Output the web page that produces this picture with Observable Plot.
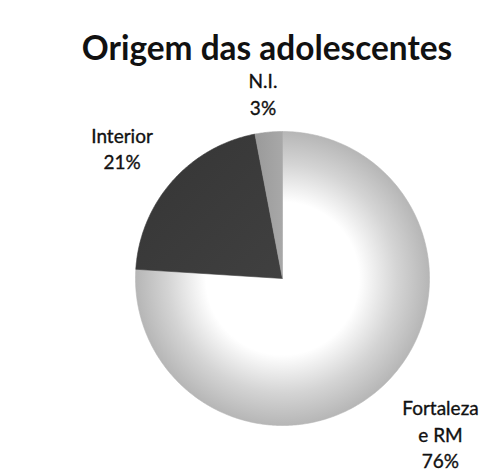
<!DOCTYPE html>
<html>
<head>
<meta charset="utf-8">
<script src="https://cdn.jsdelivr.net/npm/d3@7"></script>
<script src="https://cdn.jsdelivr.net/npm/@observablehq/plot@0.6"></script>
<style>
  html, body { margin: 0; padding: 0; background: #fff; }
  #chart svg { display: block; }
</style>
</head>
<body>
<div id="chart"></div>
<script>
// ---- Data ----
const categories = ["Fortaleza e RM", "Interior", "N.I."];
const labelTexts = ["Fortaleza\ne RM\n76%", "Interior\n21%", "N.I.\n3%"];
const shares = [76, 21, 3];
const title = "Origem das adolescentes";

// ---- Layout (pixels) ----
const W = 485, H = 472;
const cx = 282, cy = 278, R = 147;
const fills = ["url(#gFort)", "url(#gInt)", "url(#gNI)"];
// label placement: radius (in pie radii) along slice mid-angle, plus pixel nudge
const labelPlace = [[1.52, 5, -8], [1.41, -5, 6], [1.266, -2, 0]];

// ---- Build slice polygons from data ----
const arcs = d3.pie().sort(null).value(d => d)(shares);
const polys = [];
arcs.forEach((a, i) => {
  polys.push({slice: categories[i], px: 0, py: 0});
  const n = Math.max(2, Math.ceil((a.endAngle - a.startAngle) / (Math.PI / 360)));
  for (let k = 0; k <= n; k++) {
    const t = a.startAngle + (a.endAngle - a.startAngle) * k / n;
    polys.push({slice: categories[i], px: Math.sin(t), py: Math.cos(t)});
  }
  polys.push({slice: categories[i], px: 0, py: 0});
});
const labels = arcs.map((a, i) => {
  const m = (a.startAngle + a.endAngle) / 2;
  const [lr, ddx, ddy] = labelPlace[i];
  return {text: labelTexts[i], lx: Math.sin(m) * lr + ddx / R, ly: Math.cos(m) * lr - ddy / R};
});

const chart = Plot.plot({
  width: W,
  height: H,
  margin: 0,
  x: {domain: [-cx / R, (W - cx) / R], axis: null},
  y: {domain: [-(H - cy) / R, cy / R], axis: null},
  color: {domain: categories, range: fills},
  style: {fontFamily: "Lato, 'Open Sans', sans-serif", background: "#fff"},
  marks: [
    Plot.line(polys, {x: "px", y: "py", z: "slice", fill: "slice", stroke: "slice", strokeWidth: 0.6, curve: "linear"}),
    Plot.text(labels, {x: "lx", y: "ly", text: "text", fontSize: 19, lineHeight: 1.4, fill: "#111", stroke: "#111", strokeWidth: 0.35, textAnchor: "middle", lineAnchor: "middle"}),
    Plot.text([title], {frameAnchor: "top", text: d => d, dx: 24, dy: 36, fontSize: 33.4, fontWeight: "bold", fill: "#111", lineAnchor: "top"})
  ]
});

// gradient definitions
const ns = "http://www.w3.org/2000/svg";
const defs = document.createElementNS(ns, "defs");
function addStops(g, stops) {
  for (const [o, c] of stops) {
    const s = document.createElementNS(ns, "stop");
    s.setAttribute("offset", o); s.setAttribute("stop-color", c);
    g.appendChild(s);
  }
  defs.appendChild(g);
}
function radial(id, stops) {
  const g = document.createElementNS(ns, "radialGradient");
  g.setAttribute("id", id);
  g.setAttribute("cx", "50%"); g.setAttribute("cy", "50%"); g.setAttribute("r", "50%");
  addStops(g, stops);
}
function lin(id, stops, x1, y1, x2, y2) {
  const g = document.createElementNS(ns, "linearGradient");
  g.setAttribute("id", id);
  g.setAttribute("x1", x1); g.setAttribute("y1", y1); g.setAttribute("x2", x2); g.setAttribute("y2", y2);
  addStops(g, stops);
}
radial("gFort", [["0%", "#ffffff"], ["52%", "#ffffff"], ["78%", "#d4d4d4"], ["100%", "#b6b6b6"]]);
lin("gInt", [["0%", "#353535"], ["100%", "#404040"]], "0", "0", "1", "1");
lin("gNI", [["0%", "#9a9a9a"], ["100%", "#a8a8a8"]], "0", "0", "1", "0");
chart.insertBefore(defs, chart.firstChild);

document.getElementById("chart").appendChild(chart);
</script>
</body>
</html>
